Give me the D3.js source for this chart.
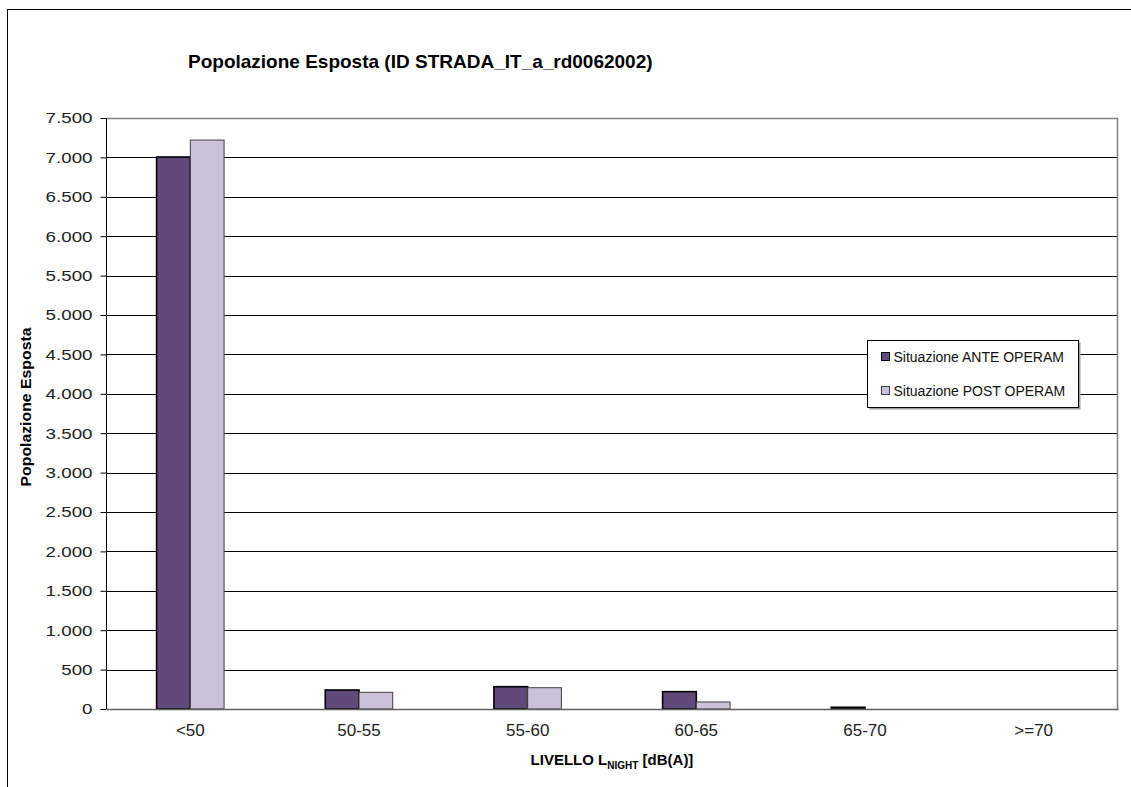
<!DOCTYPE html>
<html>
<head>
<meta charset="utf-8">
<script src="https://cdn.jsdelivr.net/npm/d3@7"></script>
<style>
  body { margin: 0; background: #fff; }
  svg text { font-family: "Liberation Sans", Arial, sans-serif; }
</style>
</head>
<body>
<div id="chart"></div>
<script>
// dati del grafico
const categorie = ["<50", "50-55", "55-60", "60-65", "65-70", ">=70"];
const serie = ["Situazione ANTE OPERAM", "Situazione POST OPERAM"];
const anteOperam = [7005, 241, 283, 220, 22, 0];
const postOperam = [7220, 212, 270, 89, 0, 0];
const yTicks = [0, 500, 1000, 1500, 2000, 2500, 3000, 3500, 4000, 4500, 5000, 5500, 6000, 6500, 7000, 7500];
const colori = ["#604a7b", "#ccc1da"];

const width = 1131;
const height = 787;
const margin = { top: 118, right: 13, bottom: 78, left: 106 };

const svg = d3.select("#chart")
    .append("svg")
    .attr("width", width)
    .attr("height", height);

// cornice esterna (tagliata a destra e in basso)
svg.append("rect")
    .attr("x", 7.5).attr("y", 9.5)
    .attr("width", 1400).attr("height", 1000)
    .attr("fill", "none")
    .attr("stroke", "#000");

const x0 = d3.scaleBand()
    .domain(categorie)
    .range([margin.left, width - margin.right])
    .padding(0);

const x1 = d3.scaleBand()
    .domain(serie)
    .range([0, x0.bandwidth()])
    .paddingInner(0)
    .paddingOuter(1.5);

const y = d3.scaleLinear()
    .domain([0, 7500])
    .range([height - margin.bottom, margin.top]);

// griglia
svg.append("g")
    .selectAll("line")
    .data(yTicks.filter(d => d > 0 && d < 7500))
    .enter()
    .append("line")
    .attr("x1", margin.left).attr("x2", width - margin.right)
    .attr("y1", d => Math.round(y(d)) + 0.5)
    .attr("y2", d => Math.round(y(d)) + 0.5)
    .attr("stroke", "#000");

// bordo area del grafico
svg.append("path")
    .attr("d", `M${margin.left},${y(7500) + 0.5}H${width - margin.right - 0.5}V${y(0)}`)
    .attr("fill", "none")
    .attr("stroke", "#808080")
    .attr("stroke-width", 1.5);

// asse y
const yAxis = svg.append("g")
    .attr("transform", `translate(${margin.left + 0.5},0)`)
    .call(d3.axisLeft(y)
        .tickValues(yTicks)
        .tickSize(6)
        .tickFormat(d => d3.format(",")(d).replace(/,/g, ".")));
yAxis.select(".domain").attr("stroke", "#000").attr("d", `M0,${y(7500)}V${y(0)}`);
yAxis.selectAll(".tick line").attr("stroke", "#000");
yAxis.selectAll(".tick text")
    .attr("fill", "#222")
    .style("font-size", "15px")
    .attr("transform", "scale(1.25,1)")
    .attr("x", -14 / 1.25);

// barre
const righe = categorie.map((c, i) => ({ cat: c, valori: [anteOperam[i], postOperam[i]] }));

const gruppi = svg.append("g")
    .selectAll("g")
    .data(righe)
    .enter()
    .append("g")
    .attr("transform", d => `translate(${x0(d.cat)},0)`);

gruppi.selectAll("rect")
    .data(d => d.valori.map((v, j) => ({ serie: serie[j], v: v, j: j })))
    .enter()
    .append("rect")
    .filter(d => d.v > 0)
    .attr("x", d => x1(d.serie))
    .attr("y", d => y(d.v))
    .attr("width", x1.bandwidth())
    .attr("height", d => y(0) - y(d.v))
    .attr("fill", d => colori[d.j])
    .attr("stroke", d => d.j === 0 ? "#000" : "#404040")
    .attr("stroke-width", d => d.j === 0 ? 1.6 : 1);

// asse x
const xAxis = svg.append("g")
    .attr("transform", `translate(0,${y(0)})`)
    .call(d3.axisBottom(x0).tickSize(0).tickPadding(15));
xAxis.select(".domain").attr("stroke", "#606060").attr("stroke-width", 1.5);
xAxis.selectAll(".tick text")
    .attr("fill", "#222")
    .style("font-size", "17px");

// titolo
svg.append("text")
    .attr("x", 188).attr("y", 68)
    .style("font-size", "19px")
    .style("font-weight", "bold")
    .attr("fill", "#000")
    .text("Popolazione Esposta (ID STRADA_IT_a_rd0062002)");

// etichetta asse y
svg.append("text")
    .attr("transform", "translate(31,407) rotate(-90) scale(1.13,1)")
    .attr("text-anchor", "middle")
    .style("font-size", "14px")
    .style("font-weight", "bold")
    .text("Popolazione Esposta");

// etichetta asse x con pedice
const xLabel = svg.append("text")
    .attr("x", 612).attr("y", 765)
    .attr("text-anchor", "middle")
    .style("font-size", "15px")
    .style("font-weight", "bold");
xLabel.append("tspan").text("LIVELLO L");
xLabel.append("tspan").attr("dy", 4).style("font-size", "10px").text("NIGHT");
xLabel.append("tspan").attr("dy", -4).text(" [dB(A)]");

// legenda
const legenda = svg.append("g").attr("transform", "translate(867.5,340.5)");
legenda.append("rect")
    .attr("x", 2).attr("y", 2)
    .attr("width", 211).attr("height", 67)
    .attr("fill", "#a0a0a0");
legenda.append("rect")
    .attr("width", 211).attr("height", 67)
    .attr("fill", "#fff")
    .attr("stroke", "#000");

const voci = legenda.selectAll(".voce")
    .data(serie)
    .enter()
    .append("g")
    .attr("class", "voce")
    .attr("transform", (d, i) => `translate(14,${12 + i * 34})`);

voci.append("rect")
    .attr("width", 8).attr("height", 8)
    .attr("fill", (d, i) => colori[i])
    .attr("stroke", (d, i) => i === 0 ? "#000" : "#404040");

voci.append("text")
    .attr("x", 12).attr("y", 9)
    .style("font-size", "14px")
    .attr("fill", "#111")
    .text(d => d);
</script>
</body>
</html>
